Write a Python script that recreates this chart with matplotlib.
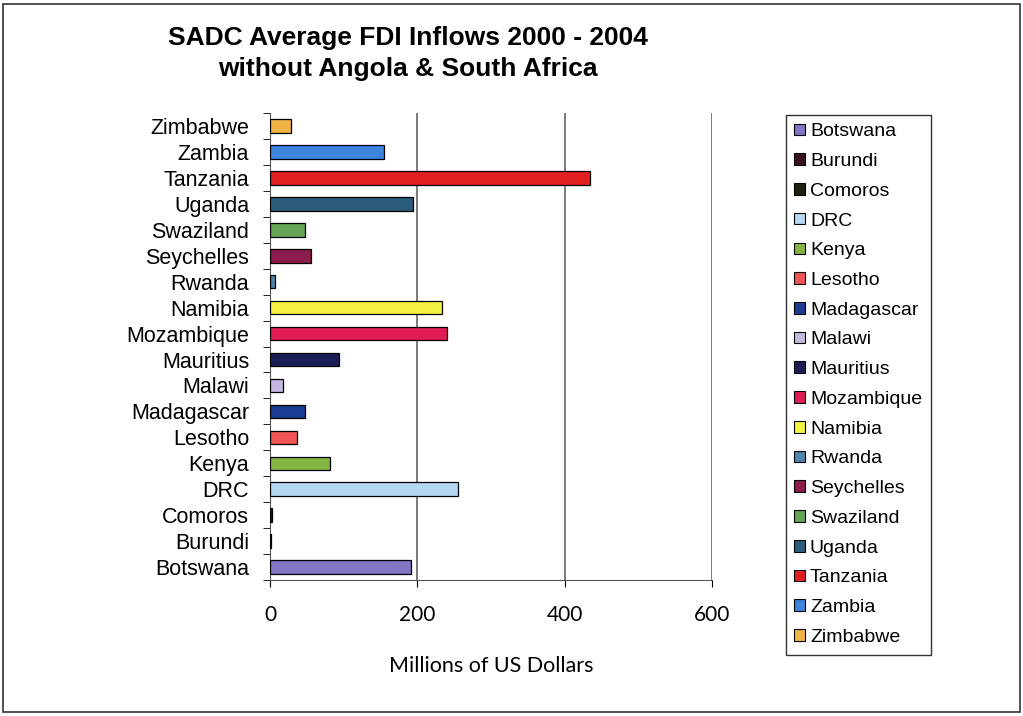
import matplotlib
matplotlib.use("Agg")
import matplotlib.pyplot as plt
from matplotlib.patches import Rectangle, Patch

countries = ["Botswana", "Burundi", "Comoros", "DRC", "Kenya", "Lesotho",
             "Madagascar", "Malawi", "Mauritius", "Mozambique", "Namibia",
             "Rwanda", "Seychelles", "Swaziland", "Uganda", "Tanzania",
             "Zambia", "Zimbabwe"]
fdi = [191, 1, 2, 255, 81, 37, 48, 17, 94, 240, 233, 7, 56, 47, 194, 434, 154, 28]
colors = ["#8474c4", "#3a1020", "#202010", "#b4d8f0", "#84b444", "#f05454",
          "#1c3c94", "#c4b8e0", "#1c1c54", "#e01c54", "#f4f044", "#4c84ac",
          "#8c1c4c", "#64a454", "#2c5c7c", "#e02020", "#3c84dc", "#f0b444"]
x_ticks = [0, 200, 400, 600]

plt.rcParams['font.family'] = ['Liberation Sans', 'DejaVu Sans']

fig = plt.figure(figsize=(10.23, 7.16), dpi=100)
ax = fig.add_axes([0.264, 0.190, 0.432, 0.652])

pos = list(range(len(countries)))
ax.barh(pos, fdi, height=0.52, color=colors, edgecolor="black", linewidth=0.9, zorder=3)

ax.set_xlim(0, 600)
ax.set_ylim(-0.5, len(countries) - 0.5)
ax.set_xticks(x_ticks)
ax.set_xticklabels([str(t) for t in x_ticks], family="Lato", fontsize=15)
ax.tick_params(axis="x", length=5, direction="out", pad=13)
ax.set_yticks(pos)
ax.set_yticklabels(countries, fontsize=15.5)
ax.tick_params(axis="y", length=0, pad=15)
ax.set_yticks([p - 0.5 for p in pos] + [len(countries) - 0.5], minor=True)
ax.tick_params(axis="y", which="minor", length=5, direction="out")
ax.grid(axis="x", color="#7a7a7a", linewidth=1.4, zorder=0)
ax.spines["top"].set_visible(False)
ax.spines["right"].set_visible(False)
ax.spines["left"].set_color("#555555")
ax.spines["bottom"].set_color("#555555")

ax.set_xlabel("Millions of US Dollars", family="Lato", fontsize=15.5, labelpad=22)

fig.text(0.399, 0.925, "SADC Average FDI Inflows 2000 - 2004\nwithout Angola & South Africa",
         ha="center", va="center", fontsize=19, fontweight="bold", linespacing=1.4)

handles = [Patch(facecolor=c, edgecolor="black", linewidth=0.8) for c in colors]
leg = fig.legend(handles, countries, loc="upper left", bbox_to_anchor=(0.768, 0.84),
                 fontsize=14, frameon=True, fancybox=False, edgecolor="black",
                 handlelength=0.55, handleheight=0.55, handletextpad=0.25,
                 labelspacing=0.655, borderpad=0.45, borderaxespad=0)
leg.get_frame().set_linewidth(1.0)

fig.patches.append(Rectangle((0.003, 0.005), 0.994, 0.99, transform=fig.transFigure,
                             fill=False, edgecolor="#333333", linewidth=1.2))

fig.savefig("out.png", dpi=100)
